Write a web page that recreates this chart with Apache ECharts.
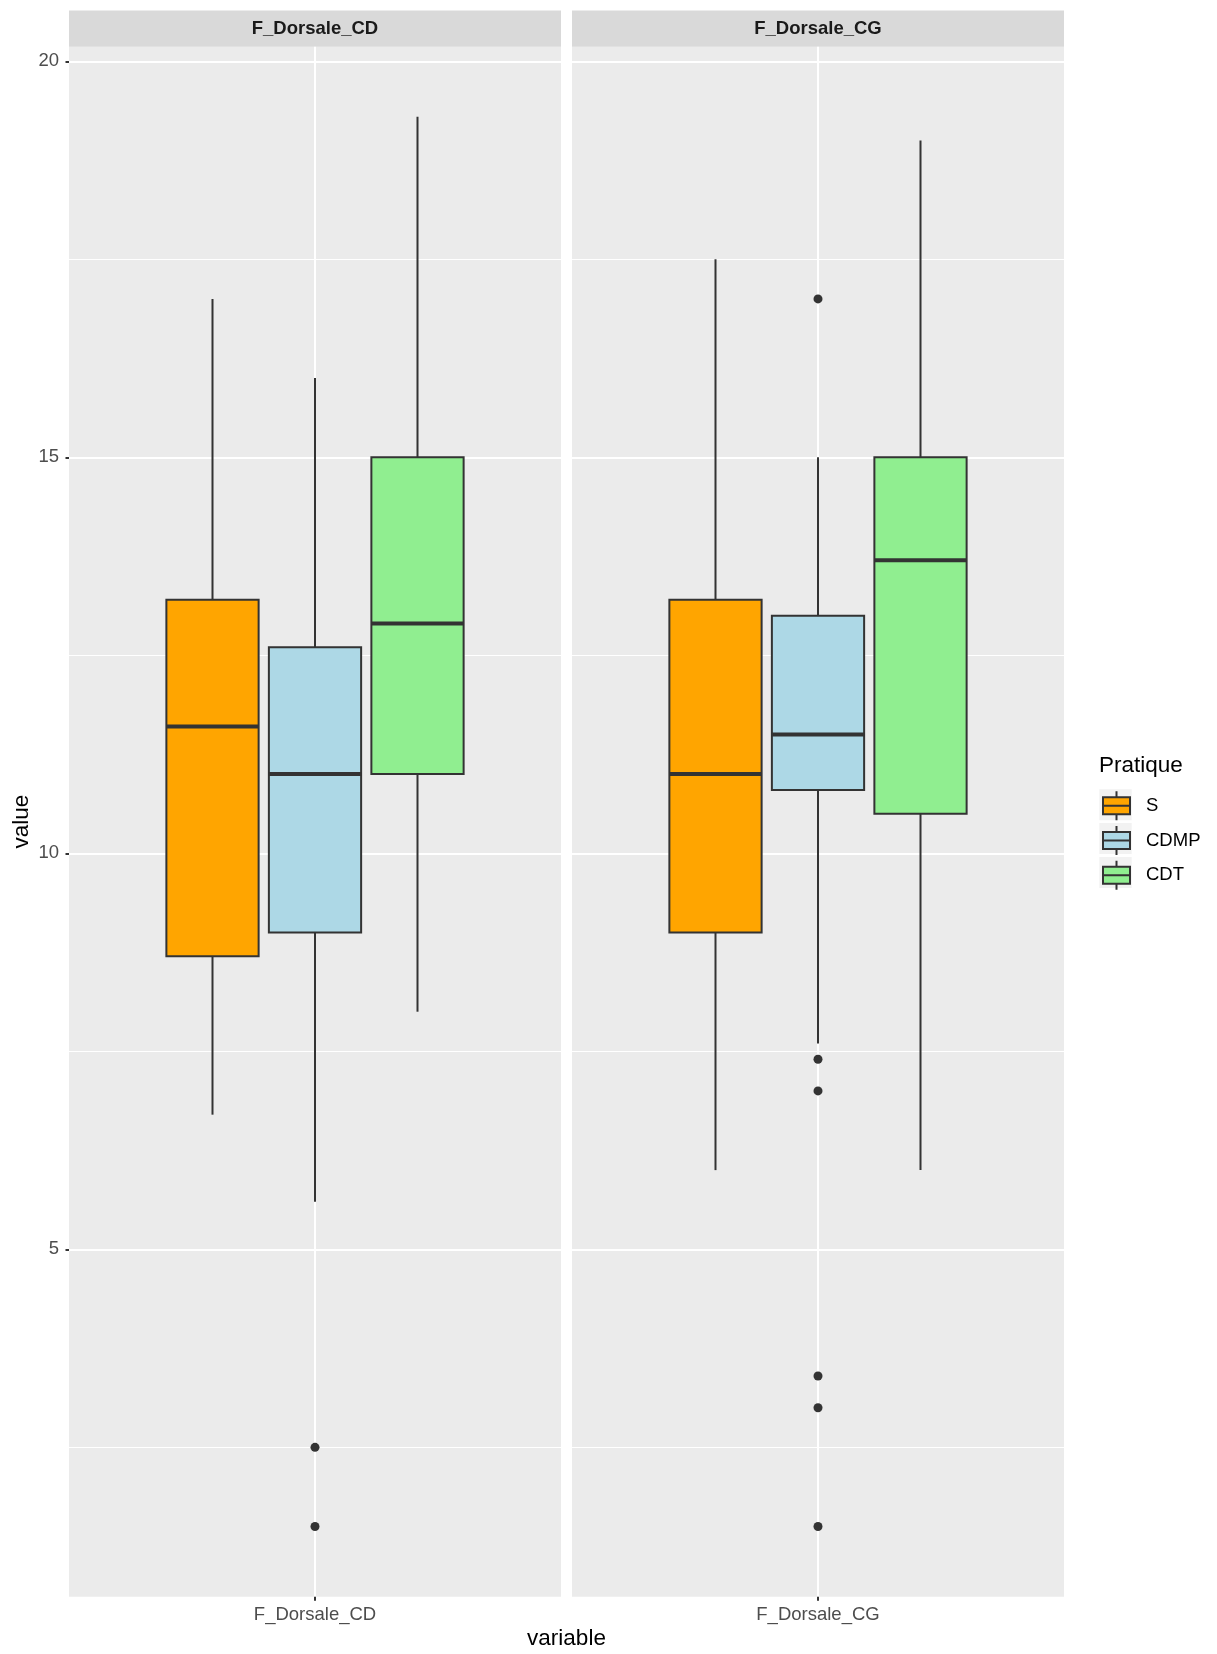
<!DOCTYPE html>
<html>
<head>
<meta charset="utf-8">
<title>F_Dorsale by Pratique</title>
<script src="https://cdn.jsdelivr.net/npm/echarts@6/dist/echarts.min.js"></script>
<style>
  html, body { margin: 0; padding: 0; background: #ffffff; }
  #chart { width: 1217px; height: 1654px; }
</style>
</head>
<body>
<div id="chart"></div>
<script>
// Facets and groups
const panels = ['F_Dorsale_CD', 'F_Dorsale_CG'];
const groups = ['S', 'CDMP', 'CDT'];

// Box statistics per group: [lower whisker, Q1, median, Q3, upper whisker]
const statsCD = [
  [6.7, 8.7, 11.6, 13.2, 17.0],
  [5.6, 9.0, 11.0, 12.6, 16.0],
  [8.0, 11.0, 12.9, 15.0, 19.3]
];
const statsCG = [
  [6.0, 9.0, 11.0, 13.2, 17.5],
  [7.6, 10.8, 11.5, 13.0, 15.0],
  [6.0, 10.5, 13.7, 15.0, 19.0]
];

// Points beyond the whiskers (all belong to CDMP)
const outlierGroupCD = 'CDMP';
const outliersCD = [2.5, 1.5];
const outlierGroupCG = 'CDMP';
const outliersCG = [17.0, 7.4, 7.0, 3.4, 3.0, 1.5];

// Value axis ticks
const yTicks = [5, 10, 15, 20];
const yMinorTicks = [2.5, 7.5, 12.5, 17.5];

// Fill colours for the groups
const palette = ['#FFA500', '#ADD8E6', '#90EE90'];

const FONT = "'Liberation Sans', Arial, Helvetica, sans-serif";
const Y_MIN = 0.614, Y_MAX = 20.184;
const PANEL_LEFT = [69, 572];
const PANEL_W = 492;
const PANEL_TOP = 46.7;
const PANEL_H = 1550;
const BAND = 102.5;
const INK = '#333333';
const KEY_STEP = 33.8;

const statsByPanel = [statsCD, statsCG];
const outlierGroups = [outlierGroupCD, outlierGroupCG];
const outliersByPanel = [outliersCD, outliersCG];

const chart = echarts.init(document.getElementById('chart'));

const grids = [];
const xAxes = [];
const yAxes = [];
const series = [];
const graphics = [];

// Visible panels (background, grid lines, axis labels)
panels.forEach(function (name, p) {
  grids.push({
    left: PANEL_LEFT[p], top: PANEL_TOP, width: PANEL_W, height: PANEL_H,
    show: true, backgroundColor: '#EBEBEB', borderWidth: 0
  });
});
// Inner grids holding the dodged boxes
panels.forEach(function (name, p) {
  const cx = PANEL_LEFT[p] + PANEL_W / 2;
  grids.push({
    left: cx - BAND * groups.length / 2, top: PANEL_TOP,
    width: BAND * groups.length, height: PANEL_H,
    show: false
  });
});

const onlyCentre = function (i) { return i === 1; };

panels.forEach(function (name, p) {
  xAxes.push({
    type: 'category', gridIndex: p,
    data: ['', name, ''], boundaryGap: false,
    axisLine: { show: false },
    axisTick: { show: true, interval: onlyCentre, length: 4, lineStyle: { color: INK, width: 2 } },
    axisLabel: { interval: onlyCentre, color: '#4D4D4D', fontSize: 18.5, fontFamily: FONT, margin: 9 },
    splitLine: { show: true, interval: onlyCentre, lineStyle: { color: '#FFFFFF', width: 2 } }
  });
});
panels.forEach(function (name, p) {
  xAxes.push({ type: 'category', gridIndex: 2 + p, data: groups, show: false });
});

panels.forEach(function (name, p) {
  // major lines + labels
  yAxes.push({
    type: 'value', gridIndex: p, min: Y_MIN, max: Y_MAX,
    name: p === 0 ? 'value' : '',
    nameLocation: 'middle', nameGap: 36,
    nameTextStyle: { fontSize: 22.5, color: '#000000', fontFamily: FONT },
    axisLine: { show: false },
    axisTick: { show: p === 0, customValues: yTicks, length: 3.5, lineStyle: { color: INK, width: 2 } },
    axisLabel: { show: p === 0, customValues: yTicks, color: '#4D4D4D', fontSize: 18.5, fontFamily: FONT, margin: 10 },
    splitLine: { show: true, lineStyle: { color: '#FFFFFF', width: 2 } }
  });
  // minor lines
  yAxes.push({
    type: 'value', gridIndex: p, min: Y_MIN, max: Y_MAX, position: 'left',
    axisLine: { show: false },
    axisTick: { show: false, customValues: yMinorTicks },
    axisLabel: { show: false, customValues: yMinorTicks },
    splitLine: { show: true, lineStyle: { color: '#FFFFFF', width: 1 } }
  });
});
panels.forEach(function (name, p) {
  yAxes.push({ type: 'value', gridIndex: 2 + p, min: Y_MIN, max: Y_MAX, show: false, splitLine: { show: false } });
});

// Box glyph: whiskers, box, thick median, no end caps
function renderBox(params, api) {
  const x = api.value(0);
  const lo = api.coord([x, api.value(1)]);
  const q1 = api.coord([x, api.value(2)]);
  const med = api.coord([x, api.value(3)]);
  const q3 = api.coord([x, api.value(4)]);
  const hi = api.coord([x, api.value(5)]);
  const w = api.size([1, 0])[0] * 0.9;
  const cx = lo[0];
  const fill = api.visual('color');
  return {
    type: 'group',
    children: [
      { type: 'line', shape: { x1: cx, y1: hi[1], x2: cx, y2: q3[1] }, style: { stroke: INK, lineWidth: 2 } },
      { type: 'line', shape: { x1: cx, y1: q1[1], x2: cx, y2: lo[1] }, style: { stroke: INK, lineWidth: 2 } },
      { type: 'rect', shape: { x: cx - w / 2, y: q3[1], width: w, height: q1[1] - q3[1] },
        style: { fill: fill, stroke: INK, lineWidth: 2 } },
      { type: 'line', shape: { x1: cx - w / 2, y1: med[1], x2: cx + w / 2, y2: med[1] },
        style: { stroke: INK, lineWidth: 4 } }
    ]
  };
}

panels.forEach(function (name, p) {
  groups.forEach(function (g, gi) {
    series.push({
      type: 'custom', name: g,
      xAxisIndex: 2 + p, yAxisIndex: 4 + p,
      itemStyle: { color: palette[gi] },
      encode: { x: 0, y: [1, 2, 3, 4, 5] },
      renderItem: renderBox,
      data: [[g].concat(statsByPanel[p][gi])],
      z: 3
    });
  });
  series.push({
    type: 'scatter', name: 'outliers ' + name,
    xAxisIndex: 2 + p, yAxisIndex: 4 + p,
    symbol: 'circle', symbolSize: 9,
    itemStyle: { color: INK, opacity: 1 },
    data: outliersByPanel[p].map(function (v) { return [outlierGroups[p], v]; }),
    z: 4
  });
});

// Facet strips
panels.forEach(function (name, p) {
  graphics.push({
    type: 'rect', left: PANEL_LEFT[p], top: 10.5,
    shape: { width: PANEL_W, height: PANEL_TOP - 10.5 },
    style: { fill: '#D9D9D9' }, silent: true
  });
  graphics.push({
    type: 'text', x: PANEL_LEFT[p] + PANEL_W / 2, y: (10.5 + PANEL_TOP) / 2,
    style: { text: name, fill: '#1A1A1A', font: 'bold 18.5px ' + FONT, align: 'center', verticalAlign: 'middle' },
    silent: true
  });
});

// Shared x title
graphics.push({
  type: 'text', x: PANEL_LEFT[0] + (PANEL_LEFT[1] + PANEL_W - PANEL_LEFT[0]) / 2, y: 1639,
  style: { text: 'variable', fill: '#000000', font: '22.5px ' + FONT, align: 'center', verticalAlign: 'middle' },
  silent: true
});

// Legend title and key backgrounds
graphics.push({
  type: 'text', x: 1099, y: 766,
  style: { text: 'Pratique', fill: '#000000', font: '22.5px ' + FONT, align: 'left', verticalAlign: 'middle' },
  silent: true
});
groups.forEach(function (g, gi) {
  graphics.push({
    type: 'rect', left: 1099.3, top: 789.3 + gi * KEY_STEP,
    shape: { width: 32.4, height: 31 },
    style: { fill: '#F2F2F2' }, silent: true, z: -1
  });
});

chart.setOption({
  backgroundColor: '#FFFFFF',
  animation: false,
  grid: grids,
  xAxis: xAxes,
  yAxis: yAxes,
  series: series,
  legend: {
    data: groups,
    orient: 'vertical',
    left: 1102, top: 790.2,
    padding: 0,
    itemWidth: 27, itemHeight: 29, itemGap: KEY_STEP - 29 - 1,
    icon: 'path://M0,6L27,6L27,23L0,23Z M0,14.5L27,14.5 M13.5,0L13.5,6 M13.5,23L13.5,29',
    itemStyle: { borderColor: INK, borderWidth: 2 },
    textStyle: { fontSize: 18.5, color: '#000000', fontFamily: FONT, padding: [0, 0, 0, 11] },
    selectedMode: false
  },
  graphic: graphics
});
</script>
</body>
</html>
